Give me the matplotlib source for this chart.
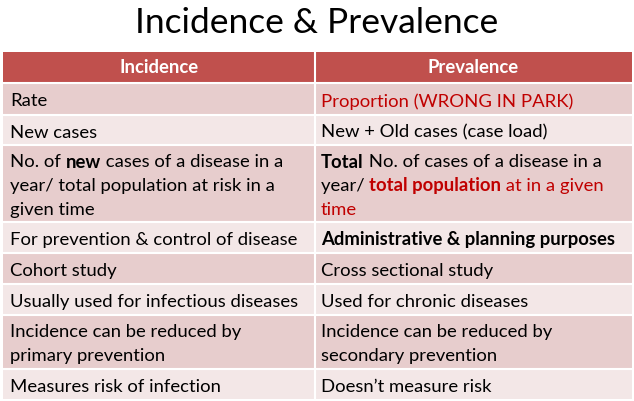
import matplotlib
matplotlib.use("Agg")
import matplotlib.pyplot as plt
from matplotlib.patches import Rectangle

title = "Incidence & Prevalence"
headers = ["Incidence", "Prevalence"]
# each cell: list of lines; each line: list of (text, style) with style n/b/r/br
incidence = [
    [[("Rate", "n")]],
    [[("New cases", "n")]],
    [[("No. of ", "n"), ("new", "b"), (" cases of a disease in a", "n")],
     [("year/ total population at risk in a", "n")],
     [("given time", "n")]],
    [[("For prevention & control of disease", "n")]],
    [[("Cohort study", "n")]],
    [[("Usually used for infectious diseases", "n")]],
    [[("Incidence can be reduced by", "n")], [("primary prevention", "n")]],
    [[("Measures risk of infection", "n")]],
]
prevalence = [
    [[("Proportion (WRONG IN PARK)", "r")]],
    [[("New + Old cases (case load)", "n")]],
    [[("Total", "b"), (" No. of cases of a disease in a", "n")],
     [("year/ ", "n"), ("total population", "br"), (" at in a given", "r")],
     [("time", "r")]],
    [[("Administrative & planning purposes", "b")]],
    [[("Cross sectional study", "n")]],
    [[("Used for chronic diseases", "n")]],
    [[("Incidence can be reduced by", "n")], [("secondary prevention", "n")]],
    [[("Doesn\u2019t measure risk", "n")]],
]
row_edges = [52, 83, 115, 145, 222, 253, 284, 315, 369, 399]

W, H = 634, 401
fig = plt.figure(figsize=(W/100, H/100), dpi=100)
ax = fig.add_axes([0, 0, 1, 1])
ax.set_xlim(0, W); ax.set_ylim(H, 0); ax.axis("off")
FONT = "Lato"
FS = 13.3
ax.text(W/2, 23, title, ha="center", va="center", fontsize=25.5, family=FONT, color="black")

x0, xm, x1 = 3, 315, 632
hdr = "#C0504D"; dark = "#E7CDCD"; light = "#F3E7E7"
ax.add_patch(Rectangle((x0, row_edges[0]), x1-x0, row_edges[1]-row_edges[0], color=hdr, lw=0))
for i in range(len(incidence)):
    c = dark if i % 2 == 0 else light
    ax.add_patch(Rectangle((x0, row_edges[i+1]), x1-x0, row_edges[i+2]-row_edges[i+1], color=c, lw=0))
for y in row_edges[1:-1]:
    ax.plot([x0, x1], [y, y], color="white", lw=1.5)
ax.plot([xm, xm], [row_edges[0], row_edges[-1]], color="white", lw=1.5)

for j, h in enumerate(headers):
    cx = (x0+xm)/2 if j == 0 else (xm+x1)/2
    ax.text(cx, (row_edges[0]+row_edges[1])/2, h, ha="center", va="center",
            fontsize=FS, weight="bold", color="white", family=FONT)

fig.canvas.draw()
r = fig.canvas.get_renderer()

def draw_line(x, y, runs):
    for txt, st in runs:
        t = ax.text(x, y, txt, ha="left", va="center_baseline", fontsize=FS, family=FONT,
                    weight="bold" if "b" in st else "normal",
                    color="#C00000" if "r" in st else "black")
        bb = t.get_window_extent(renderer=r)
        x = x + (bb.x1 - bb.x0)

for i in range(len(incidence)):
    cy = (row_edges[i+1] + row_edges[i+2]) / 2
    for cell, xl in ((incidence[i], 10), (prevalence[i], 321)):
        n = len(cell)
        for k, line in enumerate(cell):
            draw_line(xl, cy + (k - (n-1)/2) * 24 + 1, line)

fig.savefig("out.png", dpi=100)
